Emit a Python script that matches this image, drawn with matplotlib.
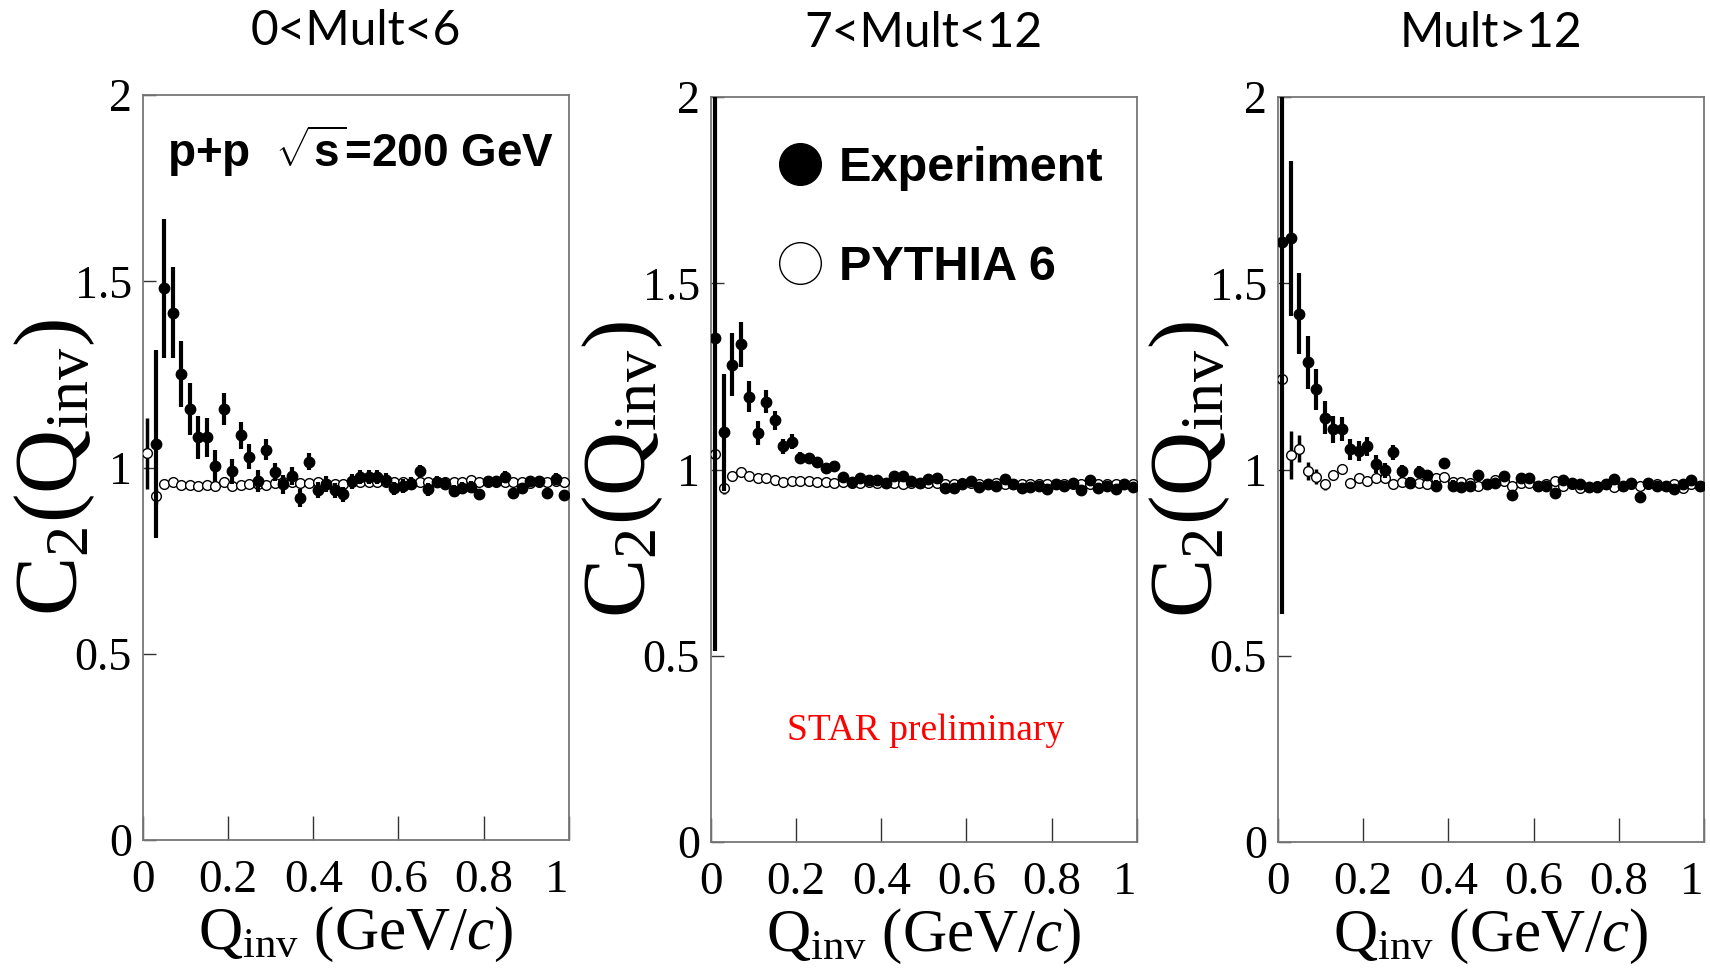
import numpy as np
import matplotlib
matplotlib.use("Agg")
import matplotlib.pyplot as plt
from matplotlib.lines import Line2D

plt.rcParams['font.family'] = ['Liberation Serif', 'DejaVu Serif']
plt.rcParams['mathtext.fontset'] = 'custom'
plt.rcParams['mathtext.rm'] = 'Liberation Serif'
plt.rcParams['mathtext.it'] = 'Liberation Serif:italic'
plt.rcParams['mathtext.bf'] = 'Liberation Sans:bold'

# Dane (C2 vs Qinv, biny co 0.02 GeV/c)
panel_titles = ["0<Mult<6", "7<Mult<12", "Mult>12"]

# --- 0<Mult<6 ---
x_exp_1 = np.round(np.arange(0.03, 1.0, 0.02), 3)
c2_exp_1 = [1.063, 1.481, 1.416, 1.251, 1.157, 1.081, 1.081, 1.004, 1.157, 0.990,
            1.087, 1.029, 0.963, 1.048, 0.988, 0.955, 0.977, 0.919, 1.016, 0.939,
            0.955, 0.939, 0.928, 0.963, 0.975, 0.975, 0.975, 0.966, 0.944, 0.950,
            0.957, 0.990, 0.941, 0.962, 0.955, 0.937, 0.944, 0.948, 0.928, 0.963,
            0.963, 0.975, 0.932, 0.944, 0.963, 0.963, 0.932, 0.970, 0.926]
err_exp_1 = [0.253, 0.187, 0.123, 0.088, 0.070, 0.057, 0.053, 0.044, 0.043, 0.033,
             0.036, 0.033, 0.029, 0.029, 0.025, 0.025, 0.025, 0.024, 0.024, 0.021,
             0.021, 0.020, 0.020, 0.020, 0.019, 0.019, 0.019, 0.018, 0.018, 0.018,
             0.017, 0.017, 0.017, 0.016, 0.016, 0.016, 0.016, 0.015, 0.015, 0.015,
             0.015, 0.015, 0.014, 0.014, 0.014, 0.014, 0.014, 0.014, 0.013]
x_py_1 = np.round(np.arange(0.01, 1.0, 0.02), 3)
c2_py_1 = [1.038, 0.923, 0.955, 0.962, 0.953, 0.953, 0.951, 0.953, 0.951, 0.962,
           0.951, 0.953, 0.955, 0.955, 0.953, 0.958, 0.962, 0.960, 0.958, 0.958,
           0.960, 0.955, 0.955, 0.955, 0.962, 0.962, 0.962, 0.960, 0.962, 0.962,
           0.962, 0.958, 0.962, 0.962, 0.962, 0.962, 0.962, 0.962, 0.966, 0.962,
           0.962, 0.962, 0.962, 0.962, 0.962, 0.958, 0.962, 0.962, 0.964, 0.962]
err_py_1 = [0.095, 0.020] + [0.005] * 48

# --- 7<Mult<12 ---
x_exp_2 = np.round(np.arange(0.01, 1.0, 0.02), 3)
c2_exp_2 = [1.354, 1.100, 1.282, 1.336, 1.196, 1.098, 1.182, 1.132, 1.063, 1.075,
            1.032, 1.030, 1.021, 1.005, 1.010, 0.981, 0.967, 0.977, 0.972, 0.972,
            0.964, 0.983, 0.983, 0.969, 0.964, 0.974, 0.976, 0.950, 0.950, 0.962,
            0.969, 0.954, 0.960, 0.957, 0.974, 0.962, 0.950, 0.952, 0.955, 0.949,
            0.960, 0.957, 0.964, 0.944, 0.972, 0.950, 0.957, 0.947, 0.960, 0.952]
err_exp_2 = [0.840, 0.157, 0.084, 0.060, 0.042, 0.032, 0.031, 0.025, 0.020, 0.020,
             0.015, 0.014, 0.013, 0.013, 0.012, 0.011, 0.011, 0.010, 0.010, 0.010,
             0.010, 0.010, 0.009, 0.009, 0.009, 0.009, 0.009, 0.009, 0.009, 0.009,
             0.008, 0.008, 0.008, 0.008, 0.008, 0.008, 0.008, 0.008, 0.008, 0.008,
             0.008, 0.008, 0.008, 0.008, 0.008, 0.008, 0.008, 0.008, 0.008, 0.008]
x_py_2 = np.round(np.arange(0.01, 1.0, 0.02), 3)
c2_py_2 = [1.041, 0.950, 0.983, 0.993, 0.983, 0.976, 0.976, 0.972, 0.967, 0.969,
           0.969, 0.969, 0.967, 0.967, 0.965, 0.966, 0.965, 0.964, 0.966, 0.964,
           0.965, 0.964, 0.962, 0.964, 0.963, 0.963, 0.964, 0.962, 0.962, 0.963,
           0.964, 0.962, 0.962, 0.963, 0.962, 0.961, 0.962, 0.961, 0.962, 0.962,
           0.961, 0.962, 0.961, 0.962, 0.961, 0.962, 0.960, 0.962, 0.961, 0.962]
err_py_2 = [0.010, 0.015] + [0.004] * 48

# --- Mult>12 ---
x_exp_3 = np.round(np.arange(0.01, 1.0, 0.02), 3)
c2_exp_3 = [1.612, 1.621, 1.419, 1.288, 1.215, 1.139, 1.108, 1.109, 1.054, 1.049,
            1.062, 1.015, 0.998, 1.046, 0.995, 0.964, 0.993, 0.985, 0.957, 1.018,
            0.957, 0.952, 0.957, 0.986, 0.962, 0.964, 0.983, 0.933, 0.977, 0.977,
            0.955, 0.955, 0.938, 0.972, 0.964, 0.960, 0.954, 0.952, 0.960, 0.974,
            0.955, 0.964, 0.926, 0.964, 0.957, 0.957, 0.949, 0.960, 0.972, 0.957]
err_exp_3 = [1.000, 0.208, 0.108, 0.071, 0.055, 0.044, 0.036, 0.033, 0.027, 0.027,
             0.025, 0.023, 0.020, 0.020, 0.018, 0.016, 0.016, 0.015, 0.015, 0.014,
             0.014, 0.013, 0.013, 0.013, 0.012, 0.012, 0.012, 0.012, 0.011, 0.011,
             0.011, 0.011, 0.011, 0.010, 0.010, 0.010, 0.010, 0.010, 0.010, 0.010,
             0.010, 0.010, 0.010, 0.010, 0.010, 0.010, 0.010, 0.010, 0.010, 0.010]
x_py_3 = np.round(np.arange(0.01, 1.0, 0.02), 3)
c2_py_3 = [1.244, 1.039, 1.056, 0.996, 0.981, 0.960, 0.986, 1.001, 0.964, 0.977,
           0.969, 0.977, 0.977, 0.962, 0.967, 0.967, 0.965, 0.962, 0.977, 0.981,
           0.967, 0.967, 0.964, 0.957, 0.962, 0.972, 0.970, 0.955, 0.964, 0.964,
           0.957, 0.960, 0.970, 0.957, 0.962, 0.950, 0.952, 0.957, 0.962, 0.954,
           0.957, 0.960, 0.957, 0.962, 0.960, 0.957, 0.960, 0.950, 0.960, 0.957]
err_py_3 = [0.010, 0.065, 0.036, 0.025, 0.020, 0.015, 0.012, 0.010] + [0.007] * 42

panels = [
    (x_exp_1, c2_exp_1, err_exp_1, x_py_1, c2_py_1, err_py_1),
    (x_exp_2, c2_exp_2, err_exp_2, x_py_2, c2_py_2, err_py_2),
    (x_exp_3, c2_exp_3, err_exp_3, x_py_3, c2_py_3, err_py_3),
]

# Pozycje osi (ułamki figury)
lefts = [0.0836, 0.4158, 0.7474]
bottoms = [0.1385, 0.1364, 0.1364]

fig = plt.figure(figsize=(17.1, 9.75), dpi=100)
osie = []
for i, (xe, ye, ee, xp, yp, ep) in enumerate(panels):
    ax = fig.add_axes([lefts[i], bottoms[i], 0.249, 0.764])
    osie.append(ax)
    # PYTHIA - puste kółka
    ax.errorbar(xp, yp, yerr=ep, fmt='o', ms=7, mfc='white', mec='black',
                mew=1.0, ecolor='black', elinewidth=2.5, capsize=0, zorder=3)
    # Eksperyment - pełne kółka
    ax.errorbar(xe, ye, yerr=ee, fmt='o', ms=7.5, mfc='black', mec='black',
                ecolor='black', elinewidth=3, capsize=0, zorder=4)
    ax.set_xlim(0, 1)
    ax.set_ylim(0, 2)
    ax.set_xticks([0, 0.2, 0.4, 0.6, 0.8, 1])
    ax.set_xticklabels(["0", "0.2", "0.4", "0.6", "0.8", "1"])
    ax.get_xticklabels()[-1].set_ha('right')
    ax.set_yticks([0, 0.5, 1, 1.5, 2])
    ax.set_yticklabels(["0", "0.5", "1", "1.5", "2"])
    ax.tick_params(axis='x', direction='in', length=17, width=1.0, color='#333333',
                   labelsize=34, pad=14)
    ax.tick_params(axis='y', direction='in', length=9.5, width=1.0, color='#333333',
                   labelsize=33, pad=8)
    for s in ax.spines.values():
        s.set_color('#777777')
        s.set_linewidth(1.3)
    ax.set_xlabel(r'Q$_{\rm inv}$ (GeV/$c$)', fontsize=44, labelpad=2)
    ax.set_ylabel(r'C$_2$(Q$_{\rm inv}$)', fontsize=64)
    ax.yaxis.set_label_coords(-0.108, 0.5)
    ax.set_title(panel_titles[i], fontsize=34.5, family=['Lato', 'DejaVu Sans'], pad=36)

# Podpis zderzenia
osie[0].text(0.056, 0.925, r"p+p  $\sqrt{\mathbf{s}}$=200 GeV", transform=osie[0].transAxes,
             fontsize=33, fontweight='bold', family=['Liberation Sans', 'DejaVu Sans'],
             ha='left', va='center')

# Legenda
uchwyty = [Line2D([], [], ls='none', marker='o', ms=30, mfc='black', mec='black'),
           Line2D([], [], ls='none', marker='o', ms=30, mfc='white', mec='black', mew=1.0)]
osie[1].legend(uchwyty, ["Experiment", "PYTHIA 6"], loc='upper left',
               bbox_to_anchor=(0.106, 0.96), frameon=False, handlelength=1.0,
               handletextpad=0.3, labelspacing=1.1, borderaxespad=0,
               prop={'family': 'Liberation Sans', 'weight': 'bold', 'size': 35})

osie[1].text(0.503, 0.149, "STAR preliminary", transform=osie[1].transAxes,
             color='red', fontsize=27, ha='center', va='center')

fig.savefig("out.png", dpi=100)
